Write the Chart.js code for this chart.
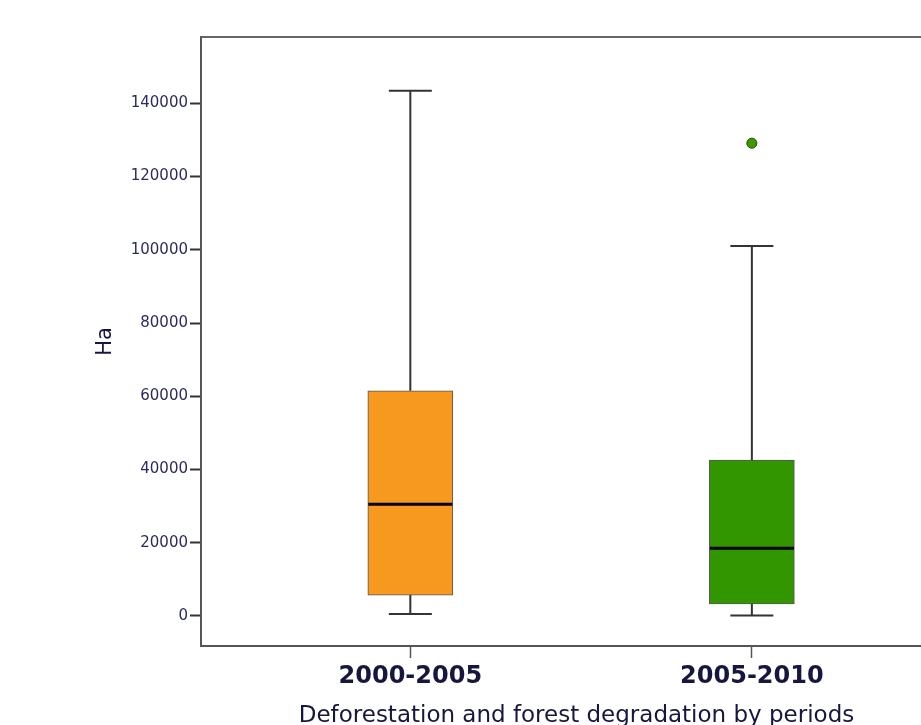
<!DOCTYPE html>
<html lang="en">
<head>
  <meta charset="UTF-8">
  <title>Deforestation and forest degradation by periods</title>
  <script src="https://cdn.jsdelivr.net/npm/chart.js"></script>
  <style>
    html, body { margin: 0; padding: 0; overflow: hidden; background: #fff; }
    canvas { display: block; }
  </style>
</head>
<body>
<canvas id="chart" width="958" height="740" style="width:958px;height:740px"></canvas>

<script>
    // box plot values (Ha)
    const periods = ['2000-2005', '2005-2010'];
    const mins    = [550, 100];
    const q1s     = [5700, 3300];
    const medians = [30500, 18500];
    const q3s     = [61500, 42600];
    const maxs    = [143400, 101000];
    const outliers = [[], [129100]];
    const yTicks  = [0, 20000, 40000, 60000, 80000, 100000, 120000, 140000];

    const boxColors = ['#F7991F', '#319600'];
    const navy = '#16163f';

    // whiskers, caps and medians drawn through the chart scales
    const boxExtras = {
        id: 'boxExtras',
        afterDatasetsDraw(chart) {
            const ctx = chart.ctx;
            const xs = chart.scales.x, ys = chart.scales.y;
            ctx.save();
            periods.forEach((p, i) => {
                const cx = xs.getPixelForValue(i);
                const half = 21.5;
                ctx.strokeStyle = '#333';
                ctx.lineWidth = 2;
                ctx.beginPath();
                ctx.moveTo(cx, ys.getPixelForValue(maxs[i]));
                ctx.lineTo(cx, ys.getPixelForValue(q3s[i]));
                ctx.moveTo(cx, ys.getPixelForValue(q1s[i]));
                ctx.lineTo(cx, ys.getPixelForValue(mins[i]));
                ctx.moveTo(cx - half, ys.getPixelForValue(maxs[i]));
                ctx.lineTo(cx + half, ys.getPixelForValue(maxs[i]));
                ctx.moveTo(cx - half, ys.getPixelForValue(mins[i]));
                ctx.lineTo(cx + half, ys.getPixelForValue(mins[i]));
                ctx.stroke();
                const bw = 42;
                ctx.strokeStyle = '#000';
                ctx.lineWidth = 3;
                ctx.beginPath();
                ctx.moveTo(cx - bw, ys.getPixelForValue(medians[i]));
                ctx.lineTo(cx + bw, ys.getPixelForValue(medians[i]));
                ctx.stroke();
            });
            // top frame line
            const a = chart.chartArea;
            ctx.strokeStyle = '#666';
            ctx.lineWidth = 2;
            ctx.beginPath();
            ctx.moveTo(a.left, a.top);
            ctx.lineTo(a.right, a.top);
            ctx.stroke();
            ctx.restore();
        }
    };

    const outlierPoints = [];
    outliers.forEach((list, i) => list.forEach(v => outlierPoints.push({x: i, y: v})));

    new Chart(document.getElementById('chart'), {
        data: {
            datasets: [
                {
                    type: 'bar',
                    data: periods.map((p, i) => ({x: i, y: [q1s[i], q3s[i]]})),
                    backgroundColor: boxColors,
                    borderColor: '#555',
                    borderWidth: 1,
                    borderSkipped: false,
                    barThickness: 85
                },
                {
                    type: 'scatter',
                    data: outlierPoints,
                    backgroundColor: '#3a9a00',
                    borderColor: '#1e4a00',
                    borderWidth: 1,
                    pointRadius: 5
                }
            ]
        },
        options: {
            responsive: false,
            animation: false,
            layout: { padding: { top: 37, left: 0, right: 0, bottom: 0 } },
            plugins: {
                legend: { display: false },
                tooltip: { enabled: false }
            },
            scales: {
                x: {
                    type: 'linear',
                    offset: false,
                    min: -0.6129,
                    max: 1.586,
                    afterBuildTicks: s => { s.ticks = periods.map((p, i) => ({value: i})); },
                    afterFit: s => { s.height = 94; },
                    grid: { offset: false, drawOnChartArea: false, drawTicks: true, tickLength: 12, tickColor: '#555', tickWidth: 1.5 },
                    border: { color: '#555', width: 2 },
                    ticks: {
                        autoSkip: false,
                        maxRotation: 0,
                        padding: 4,
                        color: navy,
                        font: { family: 'DejaVu Sans', size: 24, weight: 'bold' },
                        callback: v => periods[v]
                    },
                    title: {
                        display: true,
                        text: 'Deforestation and forest degradation by periods',
                        color: navy,
                        font: { family: 'DejaVu Sans', size: 23 },
                        padding: { top: 0, bottom: 10 }
                    }
                },
                y: {
                    min: -8200,
                    max: 158100,
                    afterBuildTicks: s => { s.ticks = yTicks.map(v => ({value: v})); },
                    afterFit: s => { s.width = 201; },
                    grid: { drawOnChartArea: false, drawTicks: true, tickLength: 11, tickColor: '#333', tickWidth: 2 },
                    border: { color: '#555', width: 2 },
                    ticks: {
                        padding: 2,
                        color: '#2b2b5e',
                        font: { family: 'DejaVu Sans', size: 15 },
                        callback: v => String(v)
                    },
                    title: {
                        display: true,
                        text: 'Ha',
                        color: navy,
                        font: { family: 'DejaVu Sans', size: 21 },
                        padding: { top: 93, bottom: 0 }
                    }
                }
            }
        },
        plugins: [boxExtras]
    });
</script>
</body>
</html>
